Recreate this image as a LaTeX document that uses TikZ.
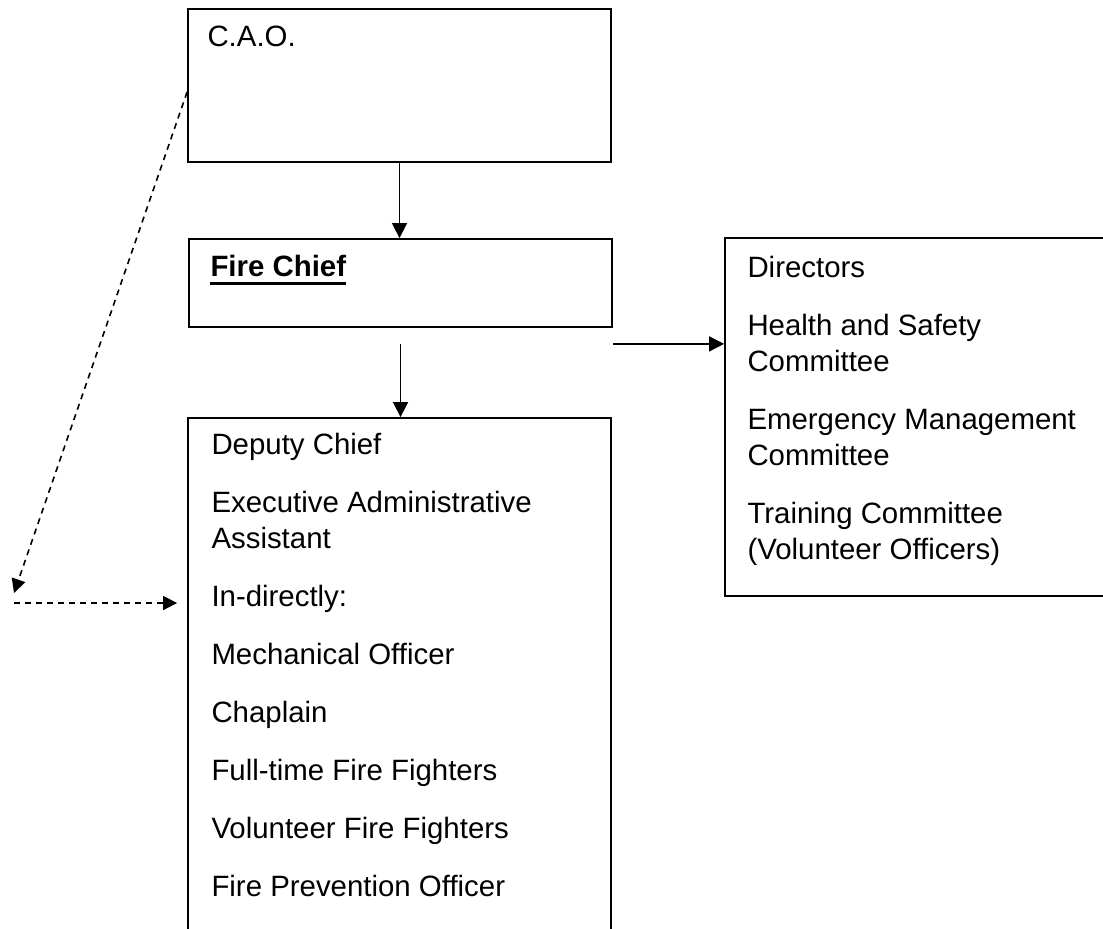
\documentclass[tikz,border=0pt]{standalone}
\usepackage{fontspec}
\setmainfont{Liberation Sans}
\usetikzlibrary{arrows.meta,positioning}

\begin{document}
\begin{tikzpicture}[x=0.5pt,y=-0.5pt,
        box/.style={draw,line width=0.9pt,minimum width=211.5pt,inner sep=0pt},
        txt/.style={anchor=north west,inner sep=0pt,align=left,font=\fontsize{14.7pt}{18pt}\selectfont},
        link/.style={-{Triangle[length=7.5pt,width=7.5pt]},line width=0.8pt},
        dashlink/.style={-{Triangle[length=7pt,width=7pt]},line width=0.8pt,dash pattern=on 3pt off 2.5pt}]
        \clip (0,0) rectangle (1103,928);
        \node[box,minimum height=76.5pt] (cao) at (399.5,85.5) {};
        \node[box,minimum height=44pt] (chief) at (400.5,283) {};
        \node[box,minimum height=265pt] (deputy) at (399.5,683) {};
        \node[box,minimum height=179pt] (directors) at (936.5,417) {};
        \node[txt] (caotxt) at ([shift={(10pt,-8.5pt)}]cao.north west) {C.A.O.};
        \node[txt] (chieftxt) at ([shift={(11pt,-8.5pt)}]chief.north west) {\bfseries Fire Chief};
        \draw[line width=1.4pt] ([yshift=-3.2pt]chieftxt.base west) -- ([yshift=-3.2pt]chieftxt.base east);
        \node[txt] (deputytxt) at ([shift={(12pt,-8pt)}]deputy.north west) {Deputy Chief\\[11pt]Executive Administrative\\Assistant\\[11pt]In-directly:\\[11pt]Mechanical Officer\\[11pt]Chaplain\\[11pt]Full-time Fire Fighters\\[11pt]Volunteer Fire Fighters\\[11pt]Fire Prevention Officer};
        \node[txt] (directorstxt) at ([shift={(11.5pt,-9.5pt)}]directors.north west) {Directors\\[11pt]Health and Safety\\Committee\\[11pt]Emergency Management\\Committee\\[11pt]Training Committee\\(Volunteer Officers)};
        \coordinate (split) at ([yshift=-8pt]chief.south);
        \coordinate (turn) at (14,593);
        \coordinate (indir) at (14,603);
        \draw[link] (cao.south) -- (cao.south |- chief.north);
        \draw[link] (split) -- (split |- deputy.north);
        \draw[link] (split -| chief.east) -- (split -| directors.west);
        \draw[dashlink] ([yshift=-3.25pt]cao.west) -- (turn);
        \draw[dashlink,shorten >=5pt] (indir) -- (indir -| deputy.west);
\end{tikzpicture}
\end{document}
